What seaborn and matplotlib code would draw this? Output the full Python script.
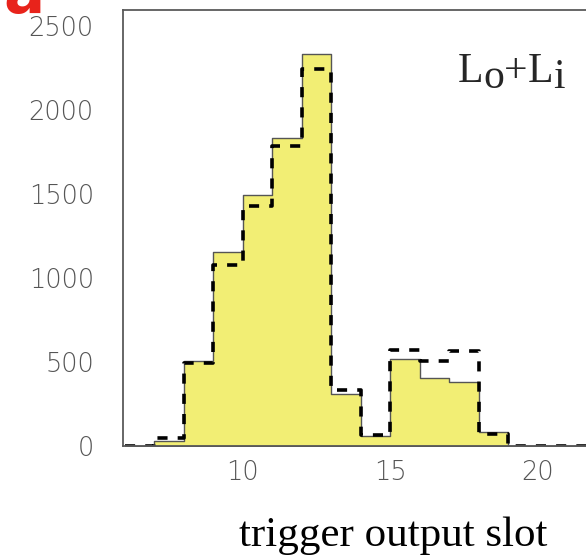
import numpy as np
import pandas as pd
import matplotlib
matplotlib.use("Agg")
import matplotlib.pyplot as plt
import seaborn as sns
from matplotlib.ticker import MultipleLocator

# Bin edges (trigger output slot) and counts per slot
bin_edges = [6, 7, 8, 9, 10, 11, 12, 13, 14, 15, 16, 17, 18, 19, 20, 21, 22]
slot_centers = [6.5, 7.5, 8.5, 9.5, 10.5, 11.5, 12.5, 13.5, 14.5, 15.5, 16.5, 17.5, 18.5, 19.5, 20.5, 21.5]
counts_filled = [0, 30, 505, 1152, 1492, 1832, 2335, 312, 60, 518, 404, 382, 83, 0, 0, 0]
counts_dashed = [0, 48, 492, 1078, 1430, 1788, 2246, 333, 64, 571, 507, 566, 72, 0, 0, 0]

yticks = [0, 500, 1000, 1500, 2000, 2500]
xticks = [10, 15, 20]
xlabel = "trigger output slot"

df = pd.DataFrame({
    "slot": slot_centers * 2,
    "count": counts_filled + counts_dashed,
    "set": ["filled"] * len(slot_centers) + ["dashed"] * len(slot_centers),
})

sns.set_style("white")

fig = plt.figure(figsize=(5.86, 5.58), dpi=100)
ax = fig.add_axes([123 / 586, 1 - 446 / 558, 463 / 586, 436 / 558])

sns.histplot(data=df[df["set"] == "filled"], x="slot", weights="count",
             bins=bin_edges, element="step", fill=True,
             color="#f2ee74", alpha=1.0, edgecolor="#555555", linewidth=1.0, ax=ax)
sns.histplot(data=df[df["set"] == "dashed"], x="slot", weights="count",
             bins=bin_edges, element="step", fill=False,
             color="black", linewidth=2.6, linestyle=(0, (2.8, 2.8)), ax=ax)

x_per_unit = 295 / 10
xmin = 10 - (242.7 - 123) / x_per_unit
ax.set_xlim(xmin, xmin + 463 / x_per_unit)
ax.set_ylim(0, 2595)

ax.set_xticks(xticks)
ax.set_yticks(yticks)
ax.xaxis.set_minor_locator(MultipleLocator(1))
ax.yaxis.set_minor_locator(MultipleLocator(250))

axis_gray = "#5a5a5a"
label_gray = "#555555"
ax.tick_params(axis="both", which="major", direction="in", length=14, width=1.1,
               color=axis_gray, labelcolor=label_gray)
ax.tick_params(axis="both", which="minor", direction="in", length=7, width=1.1,
               color=axis_gray)
ax.tick_params(axis="y", which="major", pad=21)
ax.tick_params(axis="x", which="major", pad=10)
for lab in ax.get_xticklabels() + ax.get_yticklabels():
    lab.set_family("DejaVu Sans")
    lab.set_fontweight(200)
    lab.set_fontsize(18.5)

for side in ["left", "top", "bottom"]:
    ax.spines[side].set_color(axis_gray)
    ax.spines[side].set_linewidth(1.3)
ax.spines["right"].set_visible(False)

ax.set_xlabel("")
ax.set_ylabel("")

serif = "Liberation Serif"
fig.text(393 / 586, 1 - 546 / 558, xlabel, ha="center", va="baseline",
         fontsize=31, family=serif, color="black")

# Legend-style label: L with lowered o, plus, L with lowered i
t1 = ax.text((458 - 123) / 463, 1 - (82 - 10) / 436, "L",
             transform=ax.transAxes, va="baseline", ha="left",
             fontsize=30, family=serif)
t2 = ax.annotate("o", xy=(1, 0), xycoords=t1, xytext=(0, -4), textcoords="offset points",
                 va="bottom", ha="left", fontsize=30, family=serif)
t3 = ax.annotate("+", xy=(1, 0), xycoords=t2, xytext=(0, 4), textcoords="offset points",
                 va="bottom", ha="left", fontsize=30, family=serif)
t4 = ax.annotate("L", xy=(1, 0), xycoords=t3, xytext=(0, 0), textcoords="offset points",
                 va="bottom", ha="left", fontsize=30, family=serif)
t5 = ax.annotate("i", xy=(1, 0), xycoords=t4, xytext=(0, -4), textcoords="offset points",
                 va="bottom", ha="left", fontsize=30, family=serif)

# Panel letter in the corner
fig.text(3 / 586, 1 - 13 / 558, "a", color="#e8231b", fontsize=44,
         fontweight="bold", va="baseline", ha="left")

fig.savefig("out.png", dpi=100)
